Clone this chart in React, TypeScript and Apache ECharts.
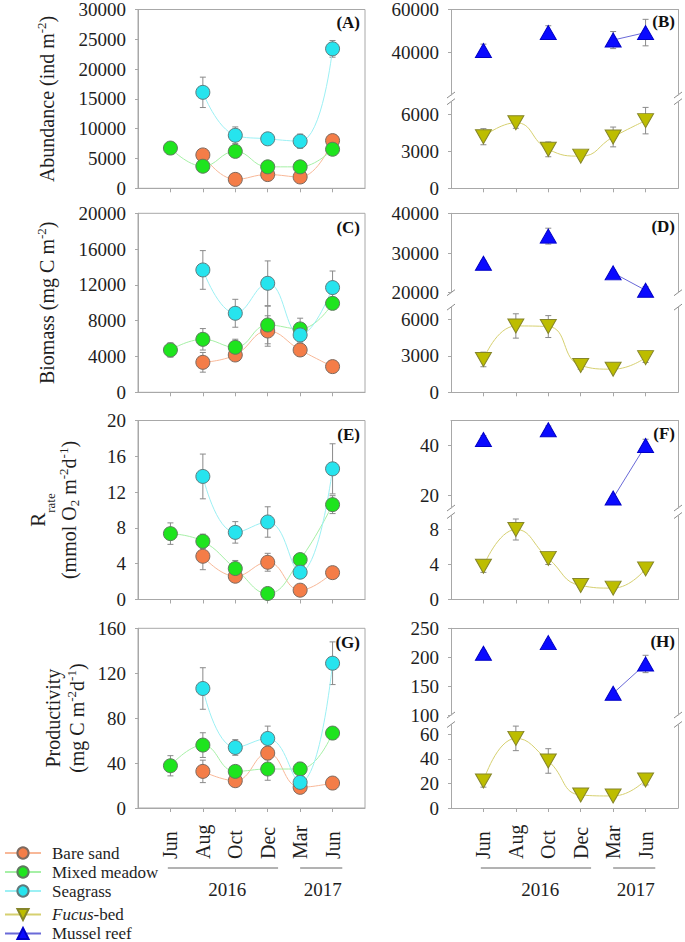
import React, { useEffect, useRef } from 'react';
import * as echarts from 'echarts';

// ---------- categories ----------
const months = ['Jun', 'Aug', 'Oct', 'Dec', 'Mar', 'Jun'];
const xPos = [1, 2, 3, 4, 5, 6];
const years = ['2016', '2017'];

// ---------- (A) Abundance (ind m-2) ----------
const abBare = [null, 5600, 1500, 2300, 1900, 8000];
const abBareErr = [null, 400, 300, 500, 400, 500];
const abMixed = [6750, 3700, 6200, 3600, 3600, 6550];
const abMixedErr = [300, 400, 500, 300, 400, 400];
const abSea = [null, 16100, 8900, 8300, 7900, 23400];
const abSeaErr = [null, 2550, 1400, 900, 1200, 1400];
// ---------- (B) ----------
const abFucus = [4170, 5300, 3150, 2600, 4150, 5470];
const abFucusErr = [650, 450, 600, 120, 800, 1070];
const abMussel = [40800, null, 49200, null, 45700, 49200];
const abMusselErr = [3000, null, 3200, null, 4000, 6200];

// ---------- (C) Biomass (mg C m-2) ----------
const bmBare = [null, 3350, 4170, 6850, 4730, 2870];
const bmBareErr = [null, 1100, 600, 1700, 700, 200];
const bmMixed = [4730, 5920, 5030, 7520, 7080, 9940];
const bmMixedErr = [800, 1200, 900, 2100, 1200, 500];
const bmSea = [null, 13670, 8830, 12180, 6410, 11700];
const bmSeaErr = [null, 2160, 1560, 2500, 800, 1850];
// ---------- (D) ----------
const bmFucus = [2700, 5450, 5400, 2200, 1900, 2850];
const bmFucusErr = [600, 1000, 900, 300, 150, 400];
const bmMussel = [27400, null, 34250, null, 25000, 20600];
const bmMusselErr = [700, null, 2000, null, 700, 900];

// ---------- (E) R rate (mmol O2 m-2 d-1) ----------
const rBare = [null, 4.83, 2.6, 4.16, 1.04, 3.0];
const rBareErr = [null, 1.5, 0.4, 1.0, 0.3, 0.3];
const rMixed = [7.36, 6.5, 3.46, 0.67, 4.46, 10.6];
const rMixedErr = [1.2, 0.8, 0.9, 0.2, 0.5, 1.0];
const rSea = [null, 13.75, 7.5, 8.66, 3.05, 14.6];
const rSeaErr = [null, 2.5, 1.2, 1.7, 0.5, 2.8];
// ---------- (F) ----------
const rFucus = [3.8, 8.0, 4.7, 1.6, 1.3, 3.5];
const rFucusErr = [0.7, 1.2, 0.7, 0.2, 0.2, 0.3];
const rMussel = [42.4, null, 46.3, null, 19.0, 40.0];
const rMusselErr = [1.5, null, 1.5, null, 0.5, 2.5];

// ---------- (G) Productivity (mg C m-2 d-1) ----------
const pBare = [null, 32.6, 24.3, 48.9, 18.4, 22.2];
const pBareErr = [null, 10, 4, 6, 3, 2];
const pMixed = [37.6, 56, 32.6, 34.7, 34.7, 66.7];
const pMixedErr = [9, 11, 4, 10, 6, 2];
const pSea = [null, 106.4, 53.9, 61.9, 22.8, 128.9];
const pSeaErr = [null, 18.5, 7, 11, 4, 19];
// ---------- (H) ----------
const pFucus = [22, 56.7, 38.3, 10.6, 9.8, 22.8];
const pFucusErr = [5, 10, 10, 2, 2, 4];
const pMussel = [206.7, null, 225.2, null, 137.5, 188.3];
const pMusselErr = [5, null, 5, null, 3, 15];

// ---------- tick labels ----------
const ticksA = { min: 0, max: 30000, interval: 5000 };
const ticksC = { min: 0, max: 20000, interval: 4000 };
const ticksE = { min: 0, max: 20, interval: 4 };
const ticksG = { min: 0, max: 160, interval: 40 };
const ticksBUp = [40000, 60000];
const ticksBLow = [0, 3000, 6000];
const ticksDUp = [20000, 30000, 40000];
const ticksDLow = [0, 3000, 6000];
const ticksFUp = [20, 40];
const ticksFLow = [0, 4, 8];
const ticksHUp = [100, 150, 200, 250];
const ticksHLow = [0, 20, 40, 60];

// ---------- style ----------
const FONT = 'Liberation Serif, Times New Roman, serif';
const FRAME = '#a8a8a8';
const ERR = '#8a8a8a';
const TXT = '#1e1e1e';
const BARE = { name: 'Bare sand', fill: '#f47d48', line: '#f8b898' };
const MIXED = { name: 'Mixed meadow', fill: '#1ee41e', line: '#a6f0a6' };
const SEA = { name: 'Seagrass', fill: '#26e4ee', line: '#9cf0f4' };
const FUCUS = { name: 'Fucus-bed', fill: '#bdbd00', line: '#d6d070' };
const MUSSEL = { name: 'Mussel reef', fill: '#0a0aff', line: '#6a6ad8' };

const LEFT_X = 138;
const RIGHT_X = 451;
const W = 227;
const rows = [
  { top: 8.3, bottom: 188.3 },
  { top: 213.3, bottom: 392.3 },
  { top: 420.5, bottom: 599.5 },
  { top: 628.3, bottom: 808 },
];

const nameRich = {
  n: { fontSize: 20, fontFamily: FONT, color: TXT, lineHeight: 24 },
  sup: { fontSize: 13, fontFamily: FONT, color: TXT, lineHeight: 13, verticalAlign: 'top' },
  sub: { fontSize: 13, fontFamily: FONT, color: TXT, lineHeight: 13, verticalAlign: 'bottom' },
  r: { fontSize: 21, fontFamily: FONT, color: TXT, lineHeight: 38, verticalAlign: 'middle' },
  rsub: { fontSize: 13, fontFamily: FONT, color: TXT, lineHeight: 24, verticalAlign: 'bottom' },
};

function errRender(params: any, api: any) {
  const x = api.value(0);
  const y = api.value(1);
  const e = api.value(2);
  const p1 = api.coord([x, y + e]);
  const p2 = api.coord([x, y - e]);
  const cw = 3;
  const st = { stroke: ERR, lineWidth: 1 };
  return {
    type: 'group',
    children: [
      { type: 'line', shape: { x1: p1[0], y1: p1[1], x2: p2[0], y2: p2[1] }, style: st },
      { type: 'line', shape: { x1: p1[0] - cw, y1: p1[1], x2: p1[0] + cw, y2: p1[1] }, style: st },
      { type: 'line', shape: { x1: p2[0] - cw, y1: p2[1], x2: p2[0] + cw, y2: p2[1] }, style: st },
    ],
  };
}

function buildOption() {
  const grid: any[] = [];
  const xAxis: any[] = [];
  const yAxis: any[] = [];
  const series: any[] = [];
  const graphic: any[] = [];

  const addX = (gi: number, position: string, ticks: boolean, labels: boolean) => {
    xAxis.push({
      gridIndex: gi,
      type: 'value',
      min: 0,
      max: 7,
      position,
      axisLine: { show: true, lineStyle: { color: FRAME, width: 1 } },
      axisTick: { show: ticks, customValues: xPos, length: 4, lineStyle: { color: FRAME } },
      axisLabel: {
        show: labels,
        customValues: xPos,
        formatter: (v: number) => months[Math.round(v) - 1] || '',
        rotate: 90,
        align: 'left',
        margin: 51,
        fontSize: 20,
        fontFamily: FONT,
        color: TXT,
      },
      splitLine: { show: false },
    });
    return xAxis.length - 1;
  };

  const yLabel = { fontSize: 19, fontFamily: FONT, color: TXT, margin: 12, formatter: (v: number) => String(v) };

  const addLineSeries = (cfg: any, xi: number, yi: number, vals: any[], errs: any[], opts: any) => {
    series.push({
      type: 'custom',
      name: cfg.name + ' err',
      xAxisIndex: xi,
      yAxisIndex: yi,
      renderItem: errRender,
      encode: { x: 0, y: 1 },
      silent: true,
      z: 2,
      data: xPos
        .map((x, i) => (vals[i] == null ? null : [x, vals[i], errs[i]]))
        .filter((d) => d != null),
    });
    series.push({
      type: 'line',
      name: cfg.name,
      xAxisIndex: xi,
      yAxisIndex: yi,
      data: xPos.map((x, i) => (vals[i] == null ? [x, '-'] : [x, vals[i]])),
      connectNulls: false,
      showSymbol: true,
      z: 3,
      lineStyle: { color: cfg.line, width: 1 },
      itemStyle: { color: cfg.fill, borderColor: opts.border, borderWidth: 1 },
      ...opts.extra,
    });
  };

  const circle = (border: string) => ({
    border,
    extra: { symbol: 'circle', symbolSize: 14, smooth: 0.45 },
  });

  const leftPanels = [
    { label: '(A)', ticks: ticksA, name: '{n|Abundance (ind m}{sup|-2}{n|)}', gap: 79, d: [[abBare, abBareErr], [abMixed, abMixedErr], [abSea, abSeaErr]] },
    { label: '(C)', ticks: ticksC, name: '{n|Biomass (mg C m}{sup|-2}{n|)}', gap: 79, d: [[bmBare, bmBareErr], [bmMixed, bmMixedErr], [bmSea, bmSeaErr]] },
    { label: '(E)', ticks: ticksE, name: '{r|R}{rsub|rate}\n{n|(mmol O}{sub|2}{n| m}{sup|-2}{n|d}{sup|-1}{n|)}', gap: 57, d: [[rBare, rBareErr], [rMixed, rMixedErr], [rSea, rSeaErr]] },
    { label: '(G)', ticks: ticksG, name: '{n|Productivity}\n{n|(mg C m}{sup|-2}{n|d}{sup|-1}{n|)}', gap: 49, d: [[pBare, pBareErr], [pMixed, pMixedErr], [pSea, pSeaErr]] },
  ];

  leftPanels.forEach((p, r) => {
    const row = rows[r];
    grid.push({ left: LEFT_X, top: row.top, width: W, height: row.bottom - row.top, show: true, borderColor: FRAME, borderWidth: 1, backgroundColor: 'transparent' });
    const gi = grid.length - 1;
    const xi = addX(gi, 'bottom', true, r === 3);
    yAxis.push({
      gridIndex: gi,
      type: 'value',
      min: p.ticks.min,
      max: p.ticks.max,
      interval: p.ticks.interval,
      position: 'left',
      axisLine: { show: true, lineStyle: { color: FRAME } },
      axisTick: { show: true, length: 3, lineStyle: { color: FRAME } },
      axisLabel: yLabel,
      splitLine: { show: false },
      name: p.name,
      nameLocation: 'middle',
      nameRotate: 90,
      nameGap: p.gap,
      nameTextStyle: { rich: nameRich, fontFamily: FONT, fontSize: 20, color: TXT },
    });
    const yi = yAxis.length - 1;
    addLineSeries(BARE, xi, yi, p.d[0][0], p.d[0][1], circle('#7c6a60'));
    addLineSeries(MIXED, xi, yi, p.d[1][0], p.d[1][1], circle('#5f7a5f'));
    addLineSeries(SEA, xi, yi, p.d[2][0], p.d[2][1], circle('#5f7a7c'));
    graphic.push({
      type: 'text',
      x: LEFT_X + W - 5,
      y: row.top + 14,
      style: { text: p.label, font: `bold 17px ${FONT}`, fill: '#111', textAlign: 'right', textVerticalAlign: 'middle', align: 'right', verticalAlign: 'middle' },
    });
  });

  const rightPanels = [
    { label: '(B)', upB: 95, lowT: 101.7, up: [20000, 60000], low: [0, 7000], upT: ticksBUp, lowT2: ticksBLow, f: [abFucus, abFucusErr], m: [abMussel, abMusselErr] },
    { label: '(D)', upB: 292.7, lowT: 307.1, up: [20000, 40000], low: [0, 7000], upT: ticksDUp, lowT2: ticksDLow, f: [bmFucus, bmFucusErr], m: [bmMussel, bmMusselErr] },
    { label: '(F)', upB: 508, lowT: 515.5, up: [15, 50], low: [0, 9.6], upT: ticksFUp, lowT2: ticksFLow, f: [rFucus, rFucusErr], m: [rMussel, rMusselErr] },
    { label: '(H)', upB: 715, lowT: 724.5, up: [100, 250], low: [0, 68], upT: ticksHUp, lowT2: ticksHLow, f: [pFucus, pFucusErr], m: [pMussel, pMusselErr] },
  ];

  const tri = (border: string, rot: number, smooth: any) => ({
    border,
    extra: { symbol: 'triangle', symbolSize: [16, 14], symbolRotate: rot, smooth },
  });

  rightPanels.forEach((p, r) => {
    const row = rows[r];
    // upper
    grid.push({ left: RIGHT_X, top: row.top, width: W, height: p.upB - row.top });
    const gU = grid.length - 1;
    const xU = addX(gU, 'top', false, false);
    yAxis.push({
      gridIndex: gU, type: 'value', min: p.up[0], max: p.up[1], position: 'left',
      axisLine: { show: true, lineStyle: { color: FRAME } },
      axisTick: { show: true, length: 3, customValues: p.upT, lineStyle: { color: FRAME } },
      axisLabel: { ...yLabel, customValues: p.upT },
      splitLine: { show: false },
    });
    const yU = yAxis.length - 1;
    yAxis.push({
      gridIndex: gU, type: 'value', min: p.up[0], max: p.up[1], position: 'right',
      axisLine: { show: true, lineStyle: { color: FRAME } },
      axisTick: { show: false }, axisLabel: { show: false }, splitLine: { show: false },
    });
    // lower
    grid.push({ left: RIGHT_X, top: p.lowT, width: W, height: row.bottom - p.lowT });
    const gL = grid.length - 1;
    const xL = addX(gL, 'bottom', true, r === 3);
    yAxis.push({
      gridIndex: gL, type: 'value', min: p.low[0], max: p.low[1], position: 'left',
      axisLine: { show: true, lineStyle: { color: FRAME } },
      axisTick: { show: true, length: 3, customValues: p.lowT2, lineStyle: { color: FRAME } },
      axisLabel: { ...yLabel, customValues: p.lowT2 },
      splitLine: { show: false },
    });
    const yL = yAxis.length - 1;
    yAxis.push({
      gridIndex: gL, type: 'value', min: p.low[0], max: p.low[1], position: 'right',
      axisLine: { show: true, lineStyle: { color: FRAME } },
      axisTick: { show: false }, axisLabel: { show: false }, splitLine: { show: false },
    });

    addLineSeries(FUCUS, xL, yL, p.f[0], p.f[1], tri('#85852a', 180, 0.5));
    addLineSeries(MUSSEL, xU, yU, p.m[0], p.m[1], tri('#0000c8', 0, false));

    // axis break marks
    [RIGHT_X, RIGHT_X + W].forEach((ax) => {
      [p.upB, p.lowT].forEach((yy) => {
        graphic.push({ type: 'line', shape: { x1: ax - 4, y1: yy + 3, x2: ax + 4, y2: yy - 3 }, style: { stroke: '#8c8c8c', lineWidth: 1 } });
      });
    });
    graphic.push({
      type: 'text',
      x: RIGHT_X + W - 3,
      y: row.top + 13,
      style: { text: p.label, font: `bold 17px ${FONT}`, fill: '#111', textAlign: 'right', textVerticalAlign: 'middle', align: 'right', verticalAlign: 'middle' },
    });
  });

  // year brackets below the month labels
  const yearSpans = [
    { text: years[0], from: 0.92, to: 4.32, mid: 2.75 },
    { text: years[1], from: 5.0, to: 6.3, mid: 5.7 },
  ];
  [LEFT_X, RIGHT_X].forEach((gx) => {
    const px = (v: number) => gx + (v * W) / 7;
    yearSpans.forEach((s) => {
      graphic.push({ type: 'line', shape: { x1: px(s.from), y1: 868, x2: px(s.to), y2: 868 }, style: { stroke: '#666', lineWidth: 1 } });
      graphic.push({
        type: 'text', x: px(s.mid), y: 889,
        style: { text: s.text, font: `19px ${FONT}`, fill: TXT, textAlign: 'center', textVerticalAlign: 'middle', align: 'center', verticalAlign: 'middle' },
      });
    });
  });

  const legendBase = {
    orient: 'vertical',
    left: 4,
    padding: 0,
    itemWidth: 36,
    itemHeight: 14,
    itemGap: 2,
    height: 80,
    selectedMode: false,
    textStyle: { fontFamily: FONT, fontSize: 17, color: TXT, lineHeight: 17, padding: [0, 0, 0, 6] },
  };

  return {
    animation: false,
    backgroundColor: '#ffffff',
    textStyle: { fontFamily: FONT },
    grid,
    xAxis,
    yAxis,
    series,
    graphic,
    legend: [
      { ...legendBase, top: 844.5, data: [BARE.name, MIXED.name, SEA.name] },
      {
        ...legendBase,
        top: 906,
        itemGap: 2,
        data: [FUCUS.name, MUSSEL.name],
        formatter: (n: string) => (n === FUCUS.name ? '{i|Fucus}{t|-bed}' : n),
        textStyle: {
          ...legendBase.textStyle,
          lineHeight: 16,
          rich: {
            i: { fontStyle: 'italic', fontFamily: FONT, fontSize: 17, color: TXT, lineHeight: 16 },
            t: { fontFamily: FONT, fontSize: 17, color: TXT, lineHeight: 16 },
          },
        },
      },
    ],
  };
}

export default function App() {
  const ref = useRef<HTMLDivElement>(null);
  useEffect(() => {
    if (!ref.current) return;
    const chart = echarts.init(ref.current, undefined, { renderer: 'svg' });
    chart.setOption(buildOption() as any);
    return () => chart.dispose();
  }, []);
  return (
    <div
      ref={ref}
      style={{ position: 'absolute', left: 0, top: 0, width: 685, height: 942, background: '#fff' }}
    />
  );
}
